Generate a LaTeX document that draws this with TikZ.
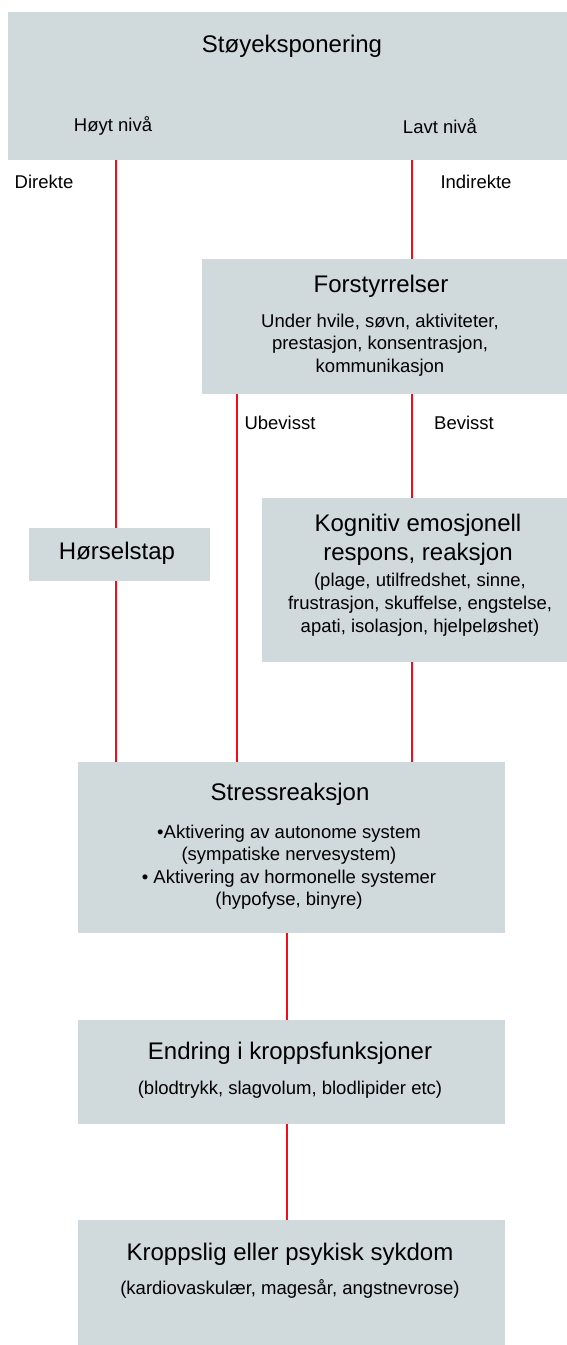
\documentclass[tikz,border=0pt]{standalone}
\usepackage{fontspec}
\setmainfont{Liberation Sans}
\usetikzlibrary{calc}
\definecolor{boxgray}{RGB}{208,217,220}
\definecolor{linkred}{RGB}{245,10,25}

\begin{document}
\begin{tikzpicture}[x=1pt,y=-1pt,
  box/.style={fill=boxgray, inner sep=0, outer sep=0},
  head/.style={font=\fontsize{24}{28}\selectfont, inner sep=0, anchor=base},
  lbl/.style={font=\fontsize{18.5}{22.5}\selectfont, inner sep=0, anchor=base},
  body/.style={font=\fontsize{18.5}{22.5}\selectfont, inner sep=0, align=center, anchor=north},
  link/.style={linkred, line width=2.3pt}]
\useasboundingbox (0,0) rectangle (567,1345);

% boxes
\node[box, minimum width=559, minimum height=148] (stoy) at (287.5,86) {};
\node[box, minimum width=365, minimum height=135] (forst) at (384.5,326.5) {};
\node[box, minimum width=305, minimum height=164] (kogn) at (414.5,580) {};
\node[box, minimum width=181, minimum height=53] (hoer) at (119.5,554.5) {};
\node[box, minimum width=427, minimum height=171] (stress) at (291.5,847.5) {};
\node[box, minimum width=427, minimum height=104] (endring) at (291.5,1072) {};
\node[box, minimum width=427, minimum height=125] (sykdom) at (291.5,1282.5) {};

% texts
\node[head] (stoyT) at (292,52) {Støyeksponering};
\node[lbl] (hoytT) at (113,131) {Høyt nivå};
\node[lbl] (lavtT) at (440,133) {Lavt nivå};
\node[lbl] (direkteT) at (44,188) {Direkte};
\node[lbl] (indirekteT) at (476,188) {Indirekte};
\node[head] (forstT) at (381,292.5) {Forstyrrelser};
\node[body] (forstB) at (380,313.5) {Under hvile, søvn, aktiviteter,\\prestasjon, konsentrasjon,\\kommunikasjon};
\node[lbl] (ubevisstT) at (280,429) {Ubevisst};
\node[lbl] (bevisstT) at (464,429) {Bevisst};
\node[body, font=\fontsize{24}{28.5}\selectfont] (kognT) at (418,514) {Kognitiv emosjonell\\respons, reaksjon};
\node[body, font=\fontsize{18.5}{23}\selectfont] (kognB) at (420,573) {(plage, utilfredshet, sinne,\\frustrasjon, skuffelse, engstelse,\\apati, isolasjon, hjelpeløshet)};
\node[head] (hoerT) at (117,559.3) {Hørselstap};
\node[head] (stressT) at (290,800.7) {Stressreaksjon};
\node[body] (stressB) at (289,824.8) {•Aktivering av autonome system\\(sympatiske nervesystem)\\• Aktivering av hormonelle systemer\\(hypofyse, binyre)};
\node[head] (endringT) at (290,1059.3) {Endring i kroppsfunksjoner};
\node[lbl] (endringB) at (290,1094) {(blodtrykk, slagvolum, blodlipider etc)};
\node[head] (sykdomT) at (290,1260) {Kroppslig eller psykisk sykdom};
\node[lbl] (sykdomB) at (290,1294.3) {(kardiovaskulær, magesår, angstnevrose)};

% connectors
\coordinate (xl) at (116,0);
\coordinate (xu) at (237,0);
\coordinate (xr) at (412,0);
\coordinate (xm) at (287,0);
\draw[link] (stoy.south -| xl) -- (hoer.north -| xl);
\draw[link] (hoer.south -| xl) -- (stress.north -| xl);
\draw[link] (stoy.south -| xr) -- (forst.north -| xr);
\draw[link] (forst.south -| xr) -- (kogn.north -| xr);
\draw[link] (kogn.south -| xr) -- (stress.north -| xr);
\draw[link] (forst.south -| xu) -- (stress.north -| xu);
\draw[link] (stress.south -| xm) -- (endring.north -| xm);
\draw[link] (endring.south -| xm) -- (sykdom.north -| xm);

\end{tikzpicture}
\end{document}
